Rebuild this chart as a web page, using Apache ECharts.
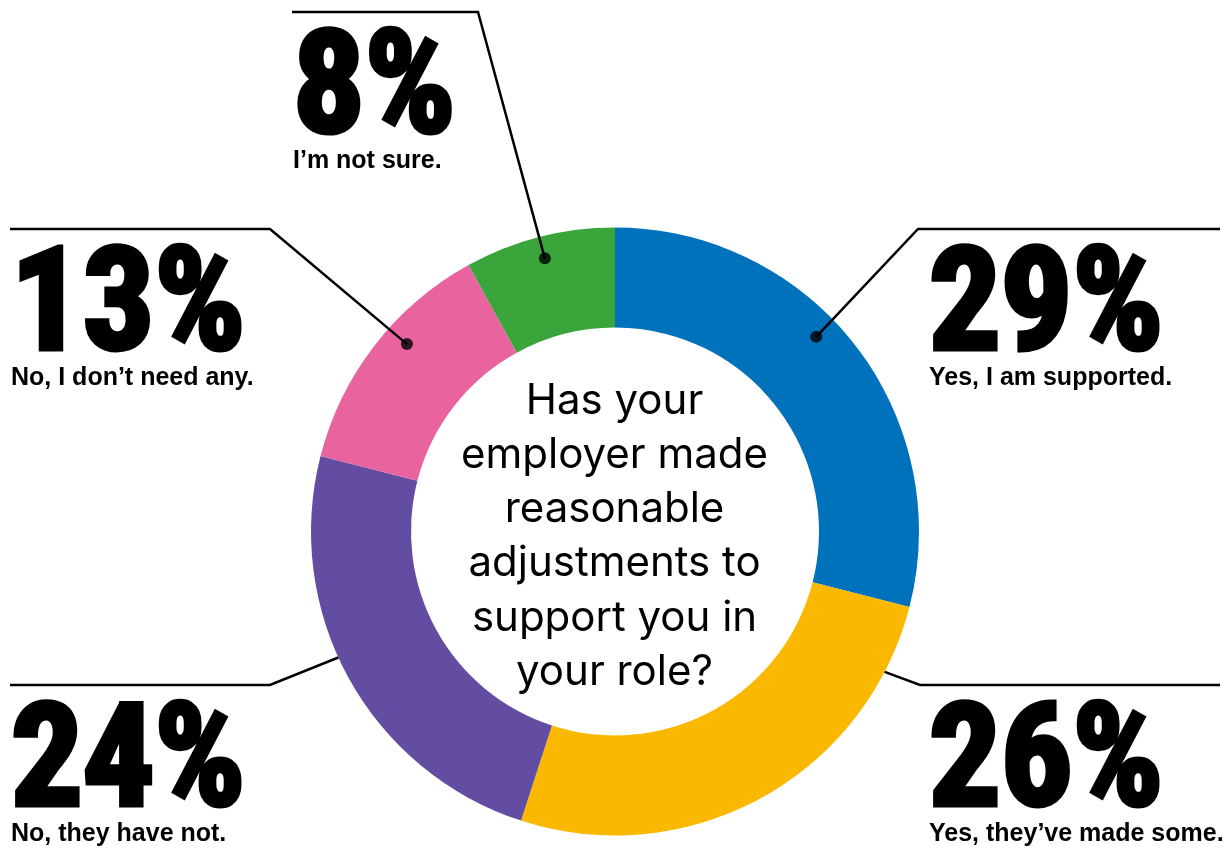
<!DOCTYPE html>
<html>
<head>
<meta charset="utf-8">
<style>
  html, body { margin: 0; padding: 0; background: #ffffff; }
  #chart { width: 1229px; height: 850px; }
</style>
<script src="https://cdn.jsdelivr.net/npm/echarts@6/dist/echarts.min.js"></script>
</head>
<body>
<div id="chart"></div>
<script>
// ---- data ----
const categories = ['Yes, I am supported.', 'Yes, they’ve made some.', 'No, they have not.', 'No, I don’t need any.', 'I’m not sure.'];
const values = [29, 26, 24, 13, 8];
const question = ['Has your', 'employer made', 'reasonable', 'adjustments to', 'support you in', 'your role?'];

// ---- layout / style ----
const colors = ['#0072BC', '#FAB900', '#634DA3', '#E9649F', '#3AA53B'];
const CX = 615, CY = 531.5, R_OUT = 304, R_IN = 204;
// leader layout per slice: where in the slice the line starts (fraction of slice, radius, dot?),
// the bend point, the end point, and the label top-left.
const leaders = [
  { frac: 0.44, r: 280, dot: true,  bend: [918, 229], end: [1220, 229], label: [929, 229] },
  { frac: 0.14, r: 304, dot: false, bend: [920, 685], end: [1220, 685], label: [929, 685] },
  { frac: 0.55, r: 304, dot: false, bend: [270, 685], end: [10, 685],   label: [11, 685] },
  { frac: 0.59, r: 280, dot: true,  bend: [270, 229], end: [10, 229],   label: [11, 229] },
  { frac: 0.50, r: 282, dot: true,  bend: [478, 12],  end: [292, 12],   label: [293, 12] }
];
const LABEL_DY = 35;

const total = values.reduce((a, b) => a + b, 0);
const starts = [];
values.reduce((acc, v) => { starts.push(acc); return acc + v; }, 0);
function anchorPct(i) { return (starts[i] + leaders[i].frac * values[i]) / total * 100; }
function polarXY(r, pct) {
  const a = pct / 100 * Math.PI * 2;
  return [CX + r * Math.sin(a), CY - r * Math.cos(a)];
}

const pctFont = "'Liberation Sans Narrow', 'Roboto Condensed', 'DejaVu Sans Condensed', sans-serif";
const subFont = "'Liberation Sans', Arial, sans-serif";
const pieData = categories.map((name, i) => ({ name: name, value: values[i] }));

const chart = echarts.init(document.getElementById('chart'), null, { renderer: 'canvas' });
chart.setOption({
  backgroundColor: '#ffffff',
  animation: false,
  title: {
    text: question.join('\n'),
    left: 'center',
    top: 369,
    textStyle: { fontFamily: 'Inter, sans-serif', fontSize: 42, fontWeight: 'normal', lineHeight: 54.2, color: '#000' }
  },
  polar: { center: [CX, CY], radius: R_OUT },
  angleAxis: { type: 'value', min: 0, max: 100, startAngle: 90, clockwise: true, show: false },
  radiusAxis: { type: 'value', min: 0, max: R_OUT, show: false },
  series: [
    {
      // the coloured ring
      type: 'pie',
      z: 2,
      center: [CX, CY],
      radius: [R_IN, R_OUT],
      startAngle: 90,
      clockwise: true,
      silent: true,
      emphasis: { disabled: true },
      data: pieData.map((d, i) => Object.assign({}, d, { itemStyle: { color: colors[i] } })),
      label: { show: false },
      labelLine: { show: false }
    },
    {
      // same slices, transparent, carrying the labels and leader lines above the ring
      type: 'pie',
      z: 5,
      center: [CX, CY],
      radius: [R_IN, R_OUT],
      startAngle: 90,
      clockwise: true,
      avoidLabelOverlap: false,
      silent: true,
      emphasis: { disabled: true },
      itemStyle: { color: 'rgba(0,0,0,0)' },
      data: pieData,
      label: {
        show: true,
        position: 'outside',
        formatter: p => '{p|' + p.value + '%}\n{t|' + p.name + '}',
        rich: {
          p: { fontFamily: pctFont, fontWeight: 'bold', fontSize: 142, lineHeight: 99, color: '#000',
               textBorderColor: '#000', textBorderWidth: 5 },
          t: { fontFamily: subFont, fontWeight: 'bold', fontSize: 25, lineHeight: 30, color: '#000' }
        }
      },
      labelLine: { show: true, smooth: false, lineStyle: { color: '#000', width: 2.5 } },
      labelLayout: function (params) {
        const i = params.dataIndex;
        const L = leaders[i];
        const start = polarXY(L.r, anchorPct(i));
        return {
          x: L.label[0], y: L.label[1] + LABEL_DY, align: 'left', verticalAlign: 'top',
          labelLinePoints: [start, L.bend, L.end]
        };
      }
    },
    {
      type: 'scatter',
      coordinateSystem: 'polar',
      silent: true,
      z: 10,
      symbol: 'circle',
      symbolSize: 12,
      itemStyle: { color: '#000' },
      data: values.map((v, i) => leaders[i].dot ? [leaders[i].r, anchorPct(i)] : null).filter(d => d)
    }
  ]
});
</script>
</body>
</html>
